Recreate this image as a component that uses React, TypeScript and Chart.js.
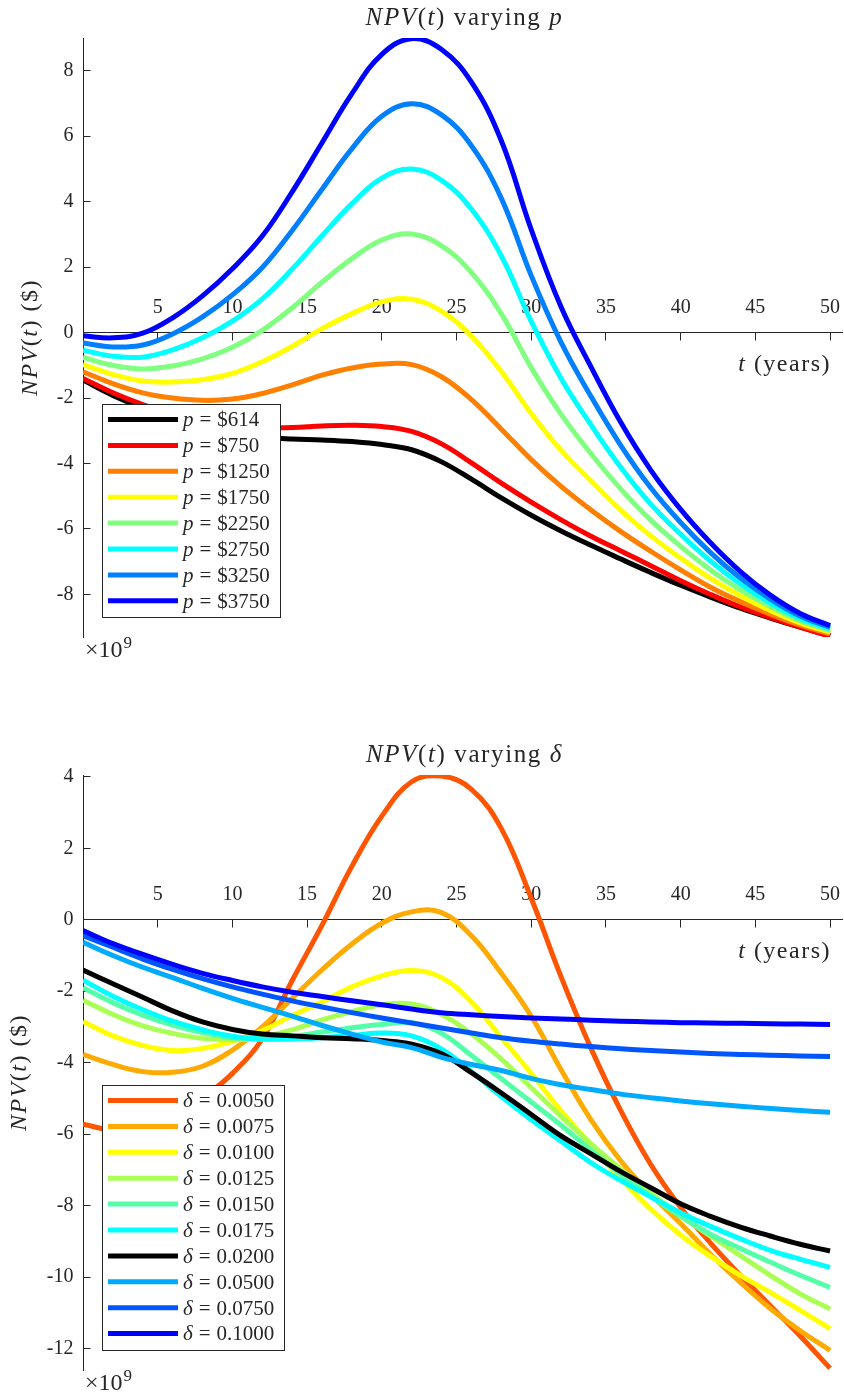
import React, { useEffect, useRef } from 'react';
import { Chart, registerables } from 'chart.js';

Chart.register(...registerables);

// ---- shared axes ----
const T_YEARS = [0, 2, 4, 6, 8, 10, 12, 14, 16, 18, 20, 22, 24, 26, 28, 30, 32, 34, 36, 38, 40, 42, 44, 46, 48, 50];
const X_TICKS = [5, 10, 15, 20, 25, 30, 35, 40, 45, 50];
const Y_TICKS_P = [-8, -6, -4, -2, 0, 2, 4, 6, 8];
const Y_TICKS_DELTA = [-12, -10, -8, -6, -4, -2, 0, 2, 4];

// ---- NPV(t) for several prices p (units of 1e9 $) ----
const P_LABELS = ['$614', '$750', '$1250', '$1750', '$2250', '$2750', '$3250', '$3750'];
const P_COLORS = ['#000000', '#ff0000', '#ff8000', '#ffff00', '#80ff80', '#00ffff', '#0080ff', '#0000ff'];
const NPV_P614 = [-1.45, -1.92, -2.30, -2.62, -2.88, -3.10, -3.20, -3.25, -3.28, -3.33, -3.42, -3.58, -3.95, -4.48, -5.05, -5.58, -6.06, -6.50, -6.92, -7.33, -7.72, -8.08, -8.42, -8.72, -9.00, -9.26];
const NPV_P750 = [-1.40, -1.84, -2.20, -2.49, -2.71, -2.85, -2.90, -2.90, -2.85, -2.83, -2.87, -3.02, -3.40, -3.98, -4.60, -5.18, -5.72, -6.22, -6.67, -7.12, -7.58, -8.00, -8.38, -8.70, -9.00, -9.28];
const NPV_P1250 = [-1.20, -1.56, -1.84, -2.00, -2.07, -2.03, -1.86, -1.60, -1.30, -1.08, -0.96, -0.98, -1.35, -2.05, -2.95, -3.88, -4.70, -5.42, -6.08, -6.68, -7.25, -7.78, -8.22, -8.60, -8.94, -9.20];
const NPV_P1750 = [-0.98, -1.28, -1.48, -1.51, -1.44, -1.25, -0.89, -0.42, 0.12, 0.58, 0.94, 1.02, 0.65, -0.11, -1.19, -2.47, -3.60, -4.53, -5.43, -6.21, -6.89, -7.51, -8.04, -8.49, -8.87, -9.15];
const NPV_P2250 = [-0.76, -1.00, -1.11, -1.02, -0.80, -0.45, 0.07, 0.76, 1.54, 2.26, 2.83, 3.01, 2.65, 1.83, 0.57, -1.07, -2.50, -3.70, -4.78, -5.73, -6.53, -7.25, -7.86, -8.37, -8.80, -9.10];
const NPV_P2750 = [-0.54, -0.72, -0.75, -0.53, -0.16, 0.35, 1.03, 1.94, 2.96, 3.94, 4.72, 5.00, 4.65, 3.77, 2.34, 0.34, -1.40, -2.82, -4.12, -5.24, -6.16, -6.98, -7.68, -8.26, -8.73, -9.05];
const NPV_P3250 = [-0.32, -0.44, -0.38, -0.04, 0.48, 1.15, 1.99, 3.12, 4.38, 5.62, 6.61, 6.99, 6.65, 5.71, 4.10, 1.74, -0.30, -1.95, -3.45, -4.74, -5.80, -6.72, -7.50, -8.14, -8.66, -9.00];
const NPV_P3750 = [-0.10, -0.16, -0.02, 0.45, 1.12, 1.95, 2.95, 4.30, 5.80, 7.30, 8.50, 8.98, 8.65, 7.65, 5.86, 3.15, 0.78, -1.05, -2.75, -4.20, -5.40, -6.42, -7.30, -8.02, -8.58, -8.95];
const P_SERIES = [NPV_P614, NPV_P750, NPV_P1250, NPV_P1750, NPV_P2250, NPV_P2750, NPV_P3250, NPV_P3750];

// ---- NPV(t) for several discount rates delta (units of 1e9 $) ----
const DELTA_LABELS = ['0.0050', '0.0075', '0.0100', '0.0125', '0.0150', '0.0175', '0.0200', '0.0500', '0.0750', '0.1000'];
const DELTA_COLORS = ['#ff5500', '#ffaa00', '#ffff00', '#aaff55', '#55ffaa', '#00ffff', '#000000', '#00aaff', '#0055ff', '#0000ff'];
const NPV_D0050 = [-5.72, -5.90, -5.95, -5.65, -5.00, -4.30, -3.33, -1.70, -0.15, 1.50, 2.90, 3.86, 4.02, 3.65, 2.55, 0.60, -1.60, -3.60, -5.35, -6.85, -8.05, -9.05, -9.95, -10.80, -11.65, -12.55];
const NPV_D0075 = [-3.77, -4.05, -4.25, -4.27, -4.10, -3.65, -3.00, -2.20, -1.40, -0.68, -0.10, 0.22, 0.20, -0.45, -1.50, -2.70, -4.20, -5.60, -6.75, -7.68, -8.50, -9.36, -10.15, -10.88, -11.50, -12.05];
const NPV_D0100 = [-2.85, -3.25, -3.52, -3.66, -3.60, -3.40, -3.10, -2.68, -2.30, -1.88, -1.57, -1.42, -1.62, -2.30, -3.30, -4.30, -5.35, -6.30, -7.25, -8.10, -8.82, -9.42, -9.95, -10.43, -10.93, -11.44];
const NPV_D0125 = [-2.25, -2.65, -2.97, -3.18, -3.32, -3.36, -3.28, -3.08, -2.80, -2.57, -2.38, -2.36, -2.65, -3.20, -3.90, -4.70, -5.50, -6.27, -6.98, -7.65, -8.28, -8.85, -9.40, -9.95, -10.47, -10.89];
const NPV_D0150 = [-1.90, -2.32, -2.67, -2.95, -3.16, -3.30, -3.34, -3.27, -3.14, -3.02, -2.93, -2.88, -3.18, -3.80, -4.45, -5.10, -5.75, -6.45, -7.13, -7.74, -8.30, -8.80, -9.20, -9.58, -9.95, -10.29];
const NPV_D0175 = [-1.69, -2.14, -2.52, -2.84, -3.08, -3.26, -3.34, -3.34, -3.30, -3.24, -3.17, -3.25, -3.62, -4.25, -4.95, -5.60, -6.20, -6.80, -7.30, -7.75, -8.20, -8.58, -8.93, -9.25, -9.50, -9.73];
const NPV_D0200 = [-1.41, -1.79, -2.17, -2.55, -2.86, -3.07, -3.20, -3.25, -3.30, -3.33, -3.38, -3.48, -3.75, -4.28, -4.85, -5.45, -6.05, -6.55, -7.05, -7.50, -7.95, -8.30, -8.60, -8.85, -9.08, -9.27];
const NPV_D0500 = [-0.63, -1.00, -1.33, -1.62, -1.92, -2.20, -2.45, -2.70, -2.96, -3.20, -3.42, -3.58, -3.85, -4.05, -4.22, -4.44, -4.62, -4.75, -4.88, -4.98, -5.07, -5.15, -5.22, -5.28, -5.34, -5.39];
const NPV_D0750 = [-0.44, -0.77, -1.10, -1.39, -1.65, -1.88, -2.08, -2.27, -2.44, -2.60, -2.75, -2.89, -3.03, -3.17, -3.30, -3.40, -3.48, -3.55, -3.61, -3.66, -3.70, -3.74, -3.77, -3.79, -3.81, -3.83];
const NPV_D1000 = [-0.30, -0.67, -0.97, -1.25, -1.50, -1.70, -1.88, -2.03, -2.15, -2.27, -2.38, -2.50, -2.60, -2.66, -2.71, -2.75, -2.78, -2.81, -2.84, -2.86, -2.88, -2.89, -2.90, -2.91, -2.92, -2.93];
const DELTA_SERIES = [NPV_D0050, NPV_D0075, NPV_D0100, NPV_D0125, NPV_D0150, NPV_D0175, NPV_D0200, NPV_D0500, NPV_D0750, NPV_D1000];

// ---- styling ----
const SERIF = '"Liberation Serif", "Times New Roman", serif';
const INK = '#262626';
const LINE_W = 5;
const WIDTH = 844;

type Run = { s: string; it?: boolean; size?: number; dy?: number; gapL?: number; gapR?: number };

function runFont(r: Run, size: number) {
  return `${r.it ? 'italic ' : ''}${r.size ?? size}px ${SERIF}`;
}

function setSpacing(ctx: CanvasRenderingContext2D, px: number) {
  if ('letterSpacing' in ctx) (ctx as any).letterSpacing = `${px}px`;
}

function measureRuns(ctx: CanvasRenderingContext2D, runs: Run[], size: number) {
  let w = 0;
  for (const r of runs) {
    ctx.font = runFont(r, size);
    w += (r.gapL ?? 0) + ctx.measureText(r.s).width + (r.gapR ?? 0);
  }
  return w;
}

function drawRuns(
  ctx: CanvasRenderingContext2D,
  runs: Run[],
  x: number,
  y: number,
  size: number,
  align: 'left' | 'center' | 'right',
  spacing = 0
) {
  setSpacing(ctx, spacing);
  const w = measureRuns(ctx, runs, size);
  let cx = align === 'center' ? x - w / 2 : align === 'right' ? x - w : x;
  ctx.textAlign = 'left';
  ctx.textBaseline = 'alphabetic';
  for (const r of runs) {
    cx += r.gapL ?? 0;
    ctx.font = runFont(r, size);
    ctx.fillText(r.s, cx, y + (r.dy ?? 0));
    cx += ctx.measureText(r.s).width + (r.gapR ?? 0);
  }
  setSpacing(ctx, 0);
}

const NPV_RUNS: Run[] = [{ s: 'NPV', it: true }, { s: '(' }, { s: 't', it: true }, { s: ')' }];
const X_LABEL_RUNS: Run[] = [{ s: 't', it: true }, { s: ' (years)' }];
const Y_LABEL_RUNS: Run[] = [...NPV_RUNS, { s: ' ($)' }];

function legendRuns(symbol: string, value: string): Run[] {
  return [{ s: symbol, it: true }, { s: '=', gapL: 6, gapR: 6 }, { s: value }];
}

type PanelSpec = {
  height: number;
  padTop: number;
  padBottom: number;
  yMin: number;
  yMax: number;
  yTicks: number[];
  titleSymbol: string;
  legendSymbol: string;
  labels: string[];
  colors: string[];
  series: number[][];
  yLabelX: number;
};

function decorPlugin(spec: PanelSpec) {
  return {
    id: 'npvDecor',
    afterDraw(chart: any) {
      const ctx: CanvasRenderingContext2D = chart.ctx;
      const ca = chart.chartArea;
      const y0 = chart.scales.y.getPixelForValue(0);
      ctx.save();
      ctx.fillStyle = INK;

      // title
      drawRuns(
        ctx,
        [...NPV_RUNS, { s: ' varying ' }, { s: spec.titleSymbol, it: true }],
        (ca.left + ca.right) / 2 + 2,
        ca.top - 13,
        25,
        'center',
        1.6
      );

      // x-axis label, under the zero line at the right end
      drawRuns(ctx, X_LABEL_RUNS, ca.right - 11, y0 + 38, 24, 'right', 1.5);

      // y-axis label
      ctx.save();
      ctx.translate(spec.yLabelX, (ca.top + ca.bottom) / 2);
      ctx.rotate(-Math.PI / 2);
      drawRuns(ctx, Y_LABEL_RUNS, 0, 0, 24, 'center', 1.5);
      ctx.restore();

      // exponent of the y values
      drawRuns(ctx, [{ s: '×10' }, { s: '9', size: 17, dy: -9, gapL: 1 }], ca.left + 2, ca.bottom + 20, 24, 'left');

      // legend box in the lower-left corner
      const datasets = chart.data.datasets;
      const n = datasets.length;
      const rowH = 25.9;
      const boxH = 32 + (n - 1) * rowH;
      const boxL = Math.round(ca.left + 19);
      const boxT = Math.round(ca.bottom - 19.5 - boxH);
      let maxW = 0;
      for (const ds of datasets) maxW = Math.max(maxW, measureRuns(ctx, legendRuns(spec.legendSymbol, ds.label), 21));
      const boxW = Math.round(81 + maxW + 10);
      ctx.fillStyle = '#ffffff';
      ctx.fillRect(boxL, boxT, boxW, boxH);
      ctx.strokeStyle = INK;
      ctx.lineWidth = 1;
      ctx.strokeRect(boxL + 0.5, boxT + 0.5, boxW, Math.round(boxH));
      datasets.forEach((ds: any, i: number) => {
        const yc = boxT + 15.5 + i * rowH;
        ctx.strokeStyle = ds.borderColor;
        ctx.lineWidth = LINE_W;
        ctx.lineCap = 'butt';
        ctx.beginPath();
        ctx.moveTo(boxL + 6, yc);
        ctx.lineTo(boxL + 76, yc);
        ctx.stroke();
        ctx.fillStyle = INK;
        drawRuns(ctx, legendRuns(spec.legendSymbol, ds.label), boxL + 81, yc + 6.8, 21, 'left');
      });
      ctx.restore();
    },
  };
}

function buildConfig(spec: PanelSpec): any {
  const tickFont = { family: SERIF, size: 20 };
  return {
    type: 'line',
    data: {
      datasets: spec.series.map((vals, i) => ({
        label: spec.labels[i],
        data: T_YEARS.map((t, k) => ({ x: t, y: vals[k] })),
        borderColor: spec.colors[i],
        backgroundColor: spec.colors[i],
        borderWidth: LINE_W,
        borderJoinStyle: 'round',
        pointRadius: 0,
        fill: false,
        tension: 0.4,
        order: -i,
      })),
    },
    options: {
      animation: false,
      responsive: false,
      events: [],
      layout: { padding: { left: 0, right: 2, top: spec.padTop, bottom: spec.padBottom } },
      plugins: { legend: { display: false }, title: { display: false }, tooltip: { enabled: false } },
      scales: {
        x: {
          type: 'linear',
          min: 0,
          max: 50.8,
          position: { y: 0 },
          afterBuildTicks: (s: any) => {
            s.ticks = X_TICKS.map((v) => ({ value: v }));
          },
          grid: { drawOnChartArea: false, drawTicks: true, tickLength: 7.5, color: INK, lineWidth: 1 },
          border: { display: true, color: INK, width: 1 },
          ticks: {
            padding: -44,
            color: INK,
            font: tickFont,
            maxRotation: 0,
            minRotation: 0,
            autoSkip: false,
            callback: (v: number) => String(v),
          },
        },
        y: {
          type: 'linear',
          min: spec.yMin,
          max: spec.yMax,
          position: 'left',
          afterBuildTicks: (s: any) => {
            s.ticks = spec.yTicks.map((v) => ({ value: v }));
          },
          afterFit: (s: any) => {
            s.width = 83;
          },
          grid: { drawOnChartArea: false, drawTicks: true, tickLength: -7.5, color: INK, lineWidth: 1 },
          border: { display: true, color: INK, width: 1 },
          ticks: {
            padding: 17,
            color: INK,
            font: tickFont,
            autoSkip: false,
            callback: (v: number) => String(v),
          },
        },
      },
    },
    plugins: [decorPlugin(spec)],
  };
}

const TOP_PANEL: PanelSpec = {
  height: 700,
  padTop: 38,
  padBottom: 63,
  yMin: -9.3,
  yMax: 9,
  yTicks: Y_TICKS_P,
  titleSymbol: 'p',
  legendSymbol: 'p',
  labels: P_LABELS,
  colors: P_COLORS,
  series: P_SERIES,
  yLabelX: 37,
};

const BOTTOM_PANEL: PanelSpec = {
  height: 699,
  padTop: 75,
  padBottom: 26,
  yMin: -12.6,
  yMax: 4.05,
  yTicks: Y_TICKS_DELTA,
  titleSymbol: 'δ',
  legendSymbol: 'δ',
  labels: DELTA_LABELS,
  colors: DELTA_COLORS,
  series: DELTA_SERIES,
  yLabelX: 26,
};

function NpvPanel({ spec }: { spec: PanelSpec }) {
  const ref = useRef<HTMLCanvasElement>(null);
  useEffect(() => {
    if (!ref.current) return;
    const chart = new Chart(ref.current, buildConfig(spec));
    return () => chart.destroy();
  }, [spec]);
  return <canvas ref={ref} width={WIDTH} height={spec.height} style={{ display: 'block' }} />;
}

export default function App() {
  return (
    <div style={{ position: 'absolute', left: 0, top: 0, width: WIDTH, height: 1399, background: '#ffffff' }}>
      <NpvPanel spec={TOP_PANEL} />
      <NpvPanel spec={BOTTOM_PANEL} />
    </div>
  );
}
